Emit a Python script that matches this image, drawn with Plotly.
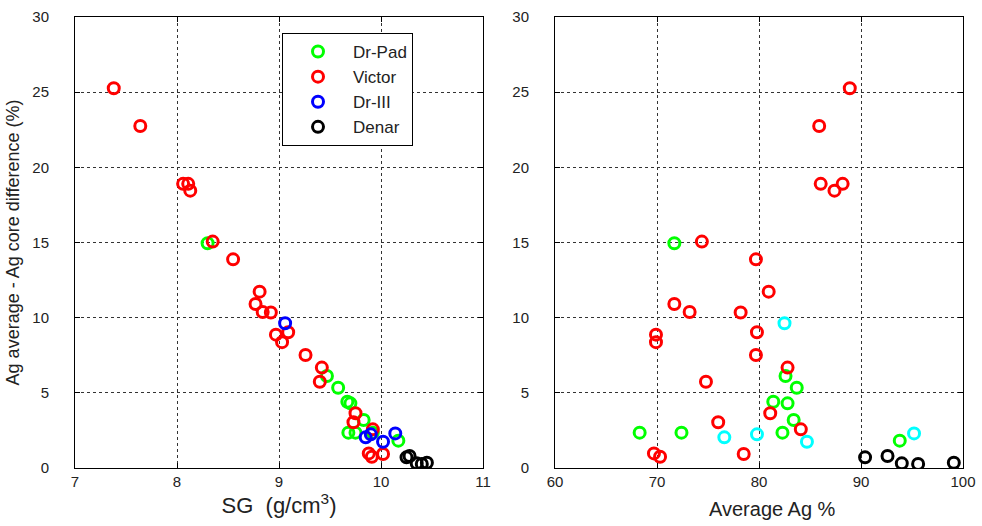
import plotly.graph_objects as go

# Dr-Pad
pad_sg   = [8.30, 9.47, 9.58, 9.67, 9.70, 9.83, 9.68, 9.75, 9.92, 10.17]
pad_ag   = [71.7, 82.6, 83.7, 81.4, 82.8, 83.4, 68.3, 72.4, 82.3, 93.8]
pad_diff = [14.95, 6.12, 5.34, 4.41, 4.30, 3.19, 2.35, 2.35, 2.35, 1.82]

# Victor
vic_sg   = [7.38, 7.64, 8.06, 8.11, 8.13, 8.35, 8.55, 8.81, 8.77, 8.84, 8.92,
            9.09, 8.97, 9.03, 9.26, 9.42, 9.40, 9.75, 9.73, 9.92, 9.88, 10.02, 9.91]
vic_ag   = [88.9, 85.9, 86.05, 88.2, 87.4, 74.4, 79.7, 80.95, 71.7, 73.2, 78.2,
            79.8, 69.9, 69.9, 79.7, 82.8, 74.8, 81.1, 76.0, 84.1, 69.7, 78.5, 70.3]
vic_diff = [25.26, 22.75, 18.9, 18.9, 18.45, 15.06, 13.88, 11.73, 10.91, 10.38, 10.34,
            9.03, 8.87, 8.37, 7.52, 6.68, 5.74, 3.64, 3.04, 2.57, 0.97, 0.93, 0.75]

# Dr-III
d3_sg   = [9.06, 9.85, 9.90, 10.02, 10.14]
d3_ag   = [82.5, 76.6, 79.8, 84.7, 95.2]
d3_diff = [9.63, 2.04, 2.24, 1.75, 2.30]

# Denar
den_sg   = [10.25, 10.28, 10.35, 10.40, 10.45]
den_ag   = [90.4, 92.6, 94.0, 95.6, 99.1]
den_diff = [0.71, 0.80, 0.31, 0.27, 0.35]

x1_ticks = [7, 8, 9, 10, 11]
x2_ticks = [60, 70, 80, 90, 100]
y_ticks = [0, 5, 10, 15, 20, 25, 30]

FONT = "Liberation Sans"
mk = lambda c: dict(symbol="circle-open", size=11, color=c, line=dict(width=3, color=c))

fig = go.Figure()
series = [
    ("Dr-Pad", pad_sg, pad_ag, pad_diff, "#00ff00", "#00ff00"),
    ("Victor", vic_sg, vic_ag, vic_diff, "#ff0000", "#ff0000"),
    ("Dr-III", d3_sg, d3_ag, d3_diff, "#0000ff", "#00ffff"),
    ("Denar", den_sg, den_ag, den_diff, "#000000", "#000000"),
]
for name, sg, ag, diff, c1, c2 in series:
    fig.add_trace(go.Scatter(x=sg, y=diff, mode="markers", name=name, marker=mk(c1),
                             xaxis="x", yaxis="y", showlegend=True))
for name, sg, ag, diff, c1, c2 in series:
    fig.add_trace(go.Scatter(x=ag, y=diff, mode="markers", name=name, marker=mk(c2),
                             xaxis="x2", yaxis="y2", showlegend=False))

axcommon = dict(showline=True, linecolor="black", linewidth=1, mirror="ticks",
                ticks="inside", ticklen=5, tickcolor="black", automargin=False,
                ticklabeloverflow="allow",
                showgrid=True, gridcolor="#333333", griddash="dot", gridwidth=1,
                zeroline=False, tickfont=dict(family=FONT, size=15, color="#222"))

FW, FH = 982, 526
L, T = 75, 17
R = FW - 963
B = FH - 468
W = FW - L - R
H = FH - T - B

fig.update_layout(
    width=FW, height=FH,
    margin=dict(l=L, r=R, t=T, b=B, autoexpand=False),
    paper_bgcolor="white", plot_bgcolor="white",
    font=dict(family=FONT, color="#222"),
    xaxis=dict(domain=[0, (483 - L) / W], range=[7, 11], tickvals=x1_ticks,
               title=dict(text="SG  (g/cm<sup>3</sup>)", font=dict(size=22, family=FONT), standoff=8),
               anchor="y", **axcommon),
    yaxis=dict(domain=[0, 1], range=[0, 30], tickvals=y_ticks, ticklabelstandoff=22,
               title=dict(text="Ag average - Ag core difference (%)", font=dict(size=18, family=FONT), standoff=8),
               anchor="x", **axcommon),
    xaxis2=dict(domain=[(555 - L) / W, 1], range=[60, 100], tickvals=x2_ticks,
                anchor="y2", **axcommon),
    yaxis2=dict(domain=[0, 1], range=[0, 30], tickvals=y_ticks, ticklabelstandoff=22,
                anchor="x2", **axcommon),
    legend=dict(x=(282 - L) / W, y=1 - (33 - T) / H, xanchor="left", yanchor="top",
                bordercolor="black", borderwidth=1, bgcolor="white",
                font=dict(family=FONT, size=17, color="#222"),
                itemwidth=60, tracegroupgap=0),
    annotations=[dict(text="Average Ag %", xref="paper", yref="paper",
                      x=(772 - L) / W, y=-(509 - 468) / H, xanchor="center", yanchor="middle",
                      showarrow=False, font=dict(size=20, family=FONT, color="#222"))],
)

fig.write_html("out.html", config={"displayModeBar": False},
               post_script="document.body.style.margin='0';document.body.style.overflow='hidden';")
